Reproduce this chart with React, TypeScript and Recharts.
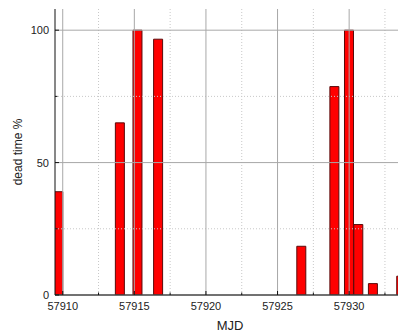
import React from 'react';
import { ComposedChart, Bar, XAxis, YAxis, ReferenceLine, Label } from 'recharts';

// dead time per observing run (bar centre in MJD, dead time in %)
const mjd = [57909.7, 57914.0, 57915.23, 57916.67, 57926.67, 57928.98, 57930.0, 57930.65, 57931.67, 57933.65];
const deadTime = [39, 65, 100, 96.6, 18.4, 78.7, 100, 26.6, 4.3, 7.1];

const xMajor = [57910, 57915, 57920, 57925, 57930];
const xMinor = [57912.5, 57917.5, 57922.5, 57927.5, 57932.5];
const yMajor = [0, 50, 100];
const yMinor = [25, 75];

const data = mjd.map((m, i) => ({ mjd: m, dt: deadTime[i] }));
const xTicks = [...xMajor, ...xMinor].sort((a, b) => a - b);

const FONT = '"Liberation Sans", Arial, sans-serif';

const BottomTick = (props: any) => {
  const { x, y, payload } = props;
  const major = xMajor.includes(payload.value);
  return (
    <g>
      <line x1={x} x2={x} y1={y} y2={y - (major ? 4 : 2.5)} stroke="#111" />
      {major && (
        <text x={x} y={y} dy={15} textAnchor="middle" fontSize={11} fill="#222" fontFamily={FONT}>
          {payload.value}
        </text>
      )}
    </g>
  );
};

const TopTick = (props: any) => {
  const { x, y, payload } = props;
  const major = xMajor.includes(payload.value);
  return <line x1={x} x2={x} y1={y} y2={y + (major ? 4 : 2.5)} stroke={major ? '#111' : '#999'} />;
};

const LeftTick = (props: any) => {
  const { x, y, payload } = props;
  const major = yMajor.includes(payload.value);
  return (
    <g>
      <line x1={x} x2={x + (major ? 4 : 2.5)} y1={y} y2={y} stroke="#111" />
      {major && (
        <text x={x - 6} y={y + 4} textAnchor="end" fontSize={11} fill="#222" fontFamily={FONT}>
          {payload.value}
        </text>
      )}
    </g>
  );
};

const App: React.FC = () => {
  return (
    <div style={{ position: 'absolute', left: 0, top: 0, width: 398, height: 333, overflow: 'hidden', background: '#fff' }}>
      <ComposedChart width={420} height={333} data={data} margin={{ top: 9, right: 15, left: 0, bottom: 0 }}>
        {xMinor.map((v) => (
          <ReferenceLine key={'xm' + v} x={v} stroke="#c8c8c8" strokeDasharray="1 2" />
        ))}
        {yMinor.map((v) => (
          <ReferenceLine key={'ym' + v} y={v} stroke="#c8c8c8" strokeDasharray="1 2" />
        ))}
        {xMajor.map((v) => (
          <ReferenceLine key={'xM' + v} x={v} stroke="#a8a8a8" />
        ))}
        {yMajor.map((v) => (
          <ReferenceLine key={'yM' + v} y={v} stroke="#a8a8a8" />
        ))}
        <XAxis
          dataKey="mjd"
          type="number"
          domain={[57909.46, 57933.9]}
          allowDataOverflow
          ticks={xTicks}
          interval={0}
          tick={<BottomTick />}
          tickLine={false}
          tickSize={0}
          tickMargin={0}
          height={38}
          axisLine={{ stroke: '#111' }}
        >
          <Label value="MJD" position="insideBottom" offset={3} fontSize={13} fill="#222" fontFamily={FONT} />
        </XAxis>
        <XAxis
          xAxisId="top"
          orientation="top"
          dataKey="mjd"
          type="number"
          domain={[57909.46, 57933.9]}
          allowDataOverflow
          ticks={xTicks}
          interval={0}
          tick={<TopTick />}
          tickLine={false}
          tickSize={0}
          tickMargin={0}
          height={0}
          axisLine={{ stroke: '#222' }}
        />
        <YAxis
          type="number"
          domain={[0, 108]}
          allowDataOverflow
          ticks={[0, 25, 50, 75, 100]}
          interval={0}
          tick={<LeftTick />}
          tickLine={false}
          tickSize={0}
          tickMargin={0}
          width={55}
          axisLine={{ stroke: '#111' }}
        >
          <Label value="dead time %" angle={-90} position="insideLeft" offset={18} fontSize={12} fill="#222" fontFamily={FONT} style={{ textAnchor: 'middle' }} />
        </YAxis>
        <Bar dataKey="dt" barSize={9} fill="#ff0000" stroke="#5a0a0a" strokeWidth={1} isAnimationActive={false} />
      </ComposedChart>
    </div>
  );
};

export default App;
